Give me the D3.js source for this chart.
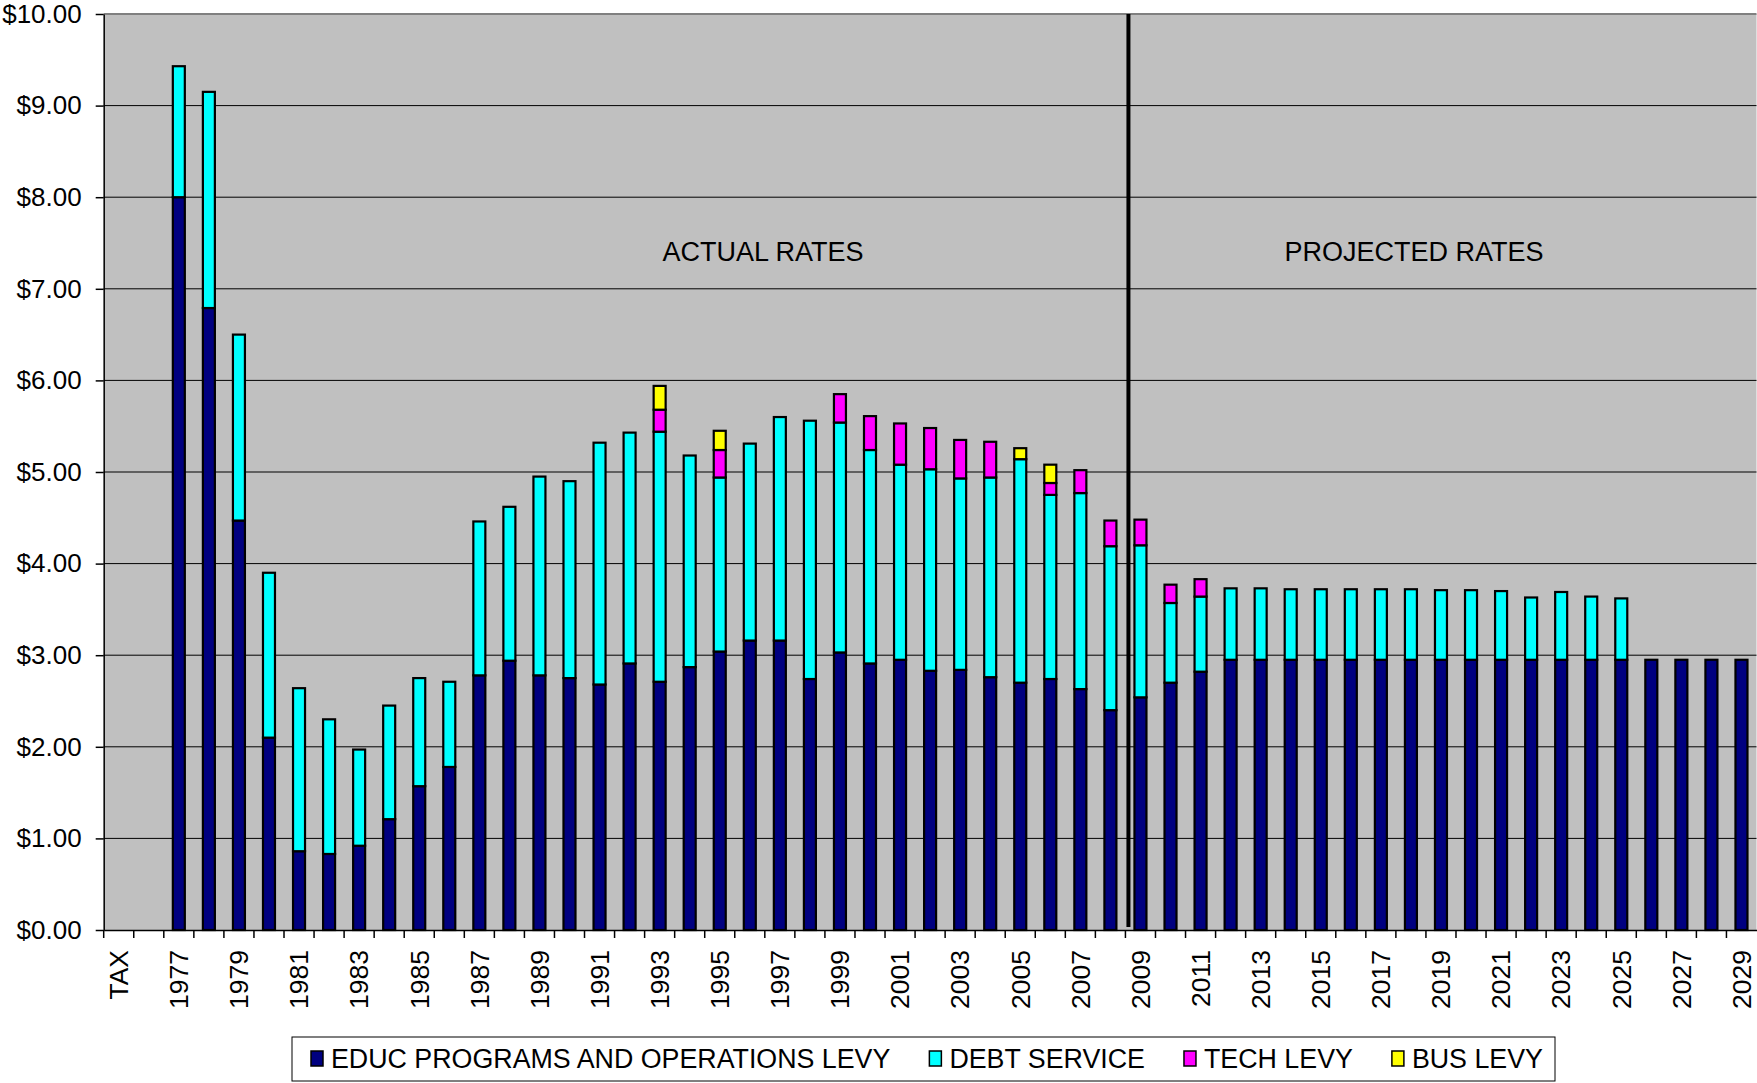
<!DOCTYPE html>
<html>
<head>
<meta charset="utf-8">
<script src="https://cdn.jsdelivr.net/npm/d3@7"></script>
<style>
  body { margin: 0; background: #fff; }
  text { font-family: "Liberation Sans", Arial, sans-serif; fill: #000; }
</style>
</head>
<body>
<div id="chart"></div>
<script>
const svgWidth = 1757;
const svgHeight = 1083;

const margin = { top: 14, right: 0.5, bottom: 153, left: 103.7 };
const width = svgWidth - margin.left - margin.right;
const height = svgHeight - margin.top - margin.bottom;

// Data
const years = ["1977","1978","1979","1980","1981","1982","1983","1984","1985","1986",
  "1987","1988","1989","1990","1991","1992","1993","1994","1995","1996",
  "1997","1998","1999","2000","2001","2002","2003","2004","2005","2006",
  "2007","2008","2009","2010","2011","2012","2013","2014","2015","2016",
  "2017","2018","2019","2020","2021","2022","2023","2024","2025","2026",
  "2027","2028","2029"];
const categories = ["TAX", ""].concat(years);

const educ = [8.00, 6.79, 4.47, 2.10, 0.86, 0.83, 0.92, 1.21, 1.57, 1.78,
  2.78, 2.94, 2.78, 2.75, 2.68, 2.91, 2.71, 2.87, 3.04, 3.16,
  3.16, 2.74, 3.03, 2.91, 2.95, 2.83, 2.84, 2.76, 2.70, 2.74,
  2.63, 2.40, 2.54, 2.70, 2.82, 2.95, 2.95, 2.95, 2.95, 2.95,
  2.95, 2.95, 2.95, 2.95, 2.95, 2.95, 2.95, 2.95, 2.95, 2.95,
  2.95, 2.95, 2.95];
const debt = [1.43, 2.36, 2.03, 1.80, 1.78, 1.47, 1.05, 1.24, 1.18, 0.93,
  1.68, 1.68, 2.17, 2.15, 2.64, 2.52, 2.73, 2.31, 1.90, 2.15,
  2.44, 2.82, 2.51, 2.33, 2.13, 2.20, 2.09, 2.18, 2.44, 2.01,
  2.14, 1.79, 1.66, 0.87, 0.82, 0.78, 0.78, 0.77, 0.77, 0.77,
  0.77, 0.77, 0.76, 0.76, 0.75, 0.68, 0.74, 0.69, 0.67, 0,
  0, 0, 0];
const tech = [0, 0, 0, 0, 0, 0, 0, 0, 0, 0,
  0, 0, 0, 0, 0, 0, 0.24, 0, 0.30, 0,
  0, 0, 0.31, 0.37, 0.45, 0.45, 0.42, 0.39, 0, 0.13,
  0.25, 0.28, 0.28, 0.20, 0.19, 0, 0, 0, 0, 0,
  0, 0, 0, 0, 0, 0, 0, 0, 0, 0,
  0, 0, 0];
const bus = [0, 0, 0, 0, 0, 0, 0, 0, 0, 0,
  0, 0, 0, 0, 0, 0, 0.26, 0, 0.21, 0,
  0, 0, 0, 0, 0, 0, 0, 0, 0.12, 0.20,
  0, 0, 0, 0, 0, 0, 0, 0, 0, 0,
  0, 0, 0, 0, 0, 0, 0, 0, 0, 0,
  0, 0, 0];

const seriesNames = ["EDUC PROGRAMS AND OPERATIONS LEVY", "DEBT SERVICE", "TECH LEVY", "BUS LEVY"];
const seriesColors = ["#000080", "#00FFFF", "#FF00FF", "#FFFF00"];
const yTicks = [0, 1, 2, 3, 4, 5, 6, 7, 8, 9, 10];

const rows = years.map((yr, i) => ({ year: yr, educ: educ[i], debt: debt[i], tech: tech[i], bus: bus[i] }));
const keys = ["educ", "debt", "tech", "bus"];

const svg = d3.select("#chart")
  .append("svg")
  .attr("width", svgWidth)
  .attr("height", svgHeight);

const chartGroup = svg.append("g")
  .attr("transform", `translate(${margin.left}, ${margin.top})`);

// scales
const x = d3.scaleBand().domain(categories).range([0, width]).padding(0);
const y = d3.scaleLinear().domain([0, 10]).range([height, 0]);
const barWidth = 12;

// plot area
chartGroup.append("rect")
  .attr("width", width)
  .attr("height", height)
  .attr("fill", "#C0C0C0");

// gridlines
chartGroup.append("g")
  .selectAll("line")
  .data(yTicks.filter(d => d > 0 && d < 10))
  .enter()
  .append("line")
  .attr("x1", 0)
  .attr("x2", width)
  .attr("y1", d => y(d))
  .attr("y2", d => y(d))
  .attr("stroke", "#000")
  .attr("stroke-width", 1);

// top border of plot
chartGroup.append("line")
  .attr("x1", 0).attr("x2", width)
  .attr("y1", y(10)).attr("y2", y(10))
  .attr("stroke", "#808080")
  .attr("stroke-width", 2);

// stacked bars
const stacked = d3.stack().keys(keys)(rows);

const layers = chartGroup.selectAll("g.layer")
  .data(stacked)
  .enter()
  .append("g")
  .attr("class", "layer")
  .attr("fill", (d, i) => seriesColors[i]);

layers.selectAll("rect")
  .data(d => d.filter(s => s[1] - s[0] > 0))
  .enter()
  .append("rect")
  .attr("x", d => x(d.data.year) + (x.bandwidth() - barWidth) / 2)
  .attr("y", d => y(d[1]))
  .attr("width", barWidth)
  .attr("height", d => y(d[0]) - y(d[1]))
  .attr("stroke", "#000")
  .attr("stroke-width", 2.2);

// divider between actual and projected
const divX = x("2009") + 3;
chartGroup.append("line")
  .attr("x1", divX).attr("x2", divX)
  .attr("y1", y(10)).attr("y2", y(0) - 3)
  .attr("stroke", "#000")
  .attr("stroke-width", 4);

// annotations
chartGroup.append("text")
  .attr("x", 763 - margin.left)
  .attr("y", y(7.41))
  .attr("dy", "0.35em")
  .attr("text-anchor", "middle")
  .style("font-size", "27px")
  .text("ACTUAL RATES");

chartGroup.append("text")
  .attr("x", 1414 - margin.left)
  .attr("y", y(7.41))
  .attr("dy", "0.35em")
  .attr("text-anchor", "middle")
  .style("font-size", "27px")
  .text("PROJECTED RATES");

// y axis
const leftAxis = d3.axisLeft(y)
  .tickValues(yTicks)
  .tickFormat(d3.format("$.2f"))
  .tickSize(8)
  .tickSizeOuter(0)
  .tickPadding(14);

const yAxis = chartGroup.append("g").call(leftAxis);
yAxis.selectAll("text").style("font-size", "26px").attr("fill", "#000");
yAxis.selectAll("line, path").attr("stroke", "#000").attr("stroke-width", 1.5);

// x axis, labels on every other category
const bottomAxis = d3.axisBottom(x)
  .tickSize(0)
  .tickSizeOuter(0)
  .tickFormat((d, i) => (i % 2 === 0 ? d : ""));

const xAxis = chartGroup.append("g")
  .attr("transform", `translate(0, ${height})`)
  .call(bottomAxis);

xAxis.select("path").attr("stroke", "#000").attr("stroke-width", 1.5);
xAxis.selectAll("text")
  .attr("transform", "rotate(-90)")
  .attr("x", -20)
  .attr("y", 0)
  .attr("dy", "0.35em")
  .style("text-anchor", "end")
  .style("font-size", "26.5px")
  .attr("fill", "#000");

// tick marks at category boundaries
xAxis.append("g")
  .selectAll("line")
  .data(categories)
  .enter()
  .append("line")
  .attr("x1", d => x(d))
  .attr("x2", d => x(d))
  .attr("y1", 0)
  .attr("y2", 8)
  .attr("stroke", "#000")
  .attr("stroke-width", 1.5);

// legend
const legend = svg.append("g").attr("transform", "translate(292, 1037)");
legend.append("rect")
  .attr("width", 1263)
  .attr("height", 44)
  .attr("fill", "#fff")
  .attr("stroke", "#000")
  .attr("stroke-width", 1);

let cursor = 19;
seriesNames.forEach((name, i) => {
  const item = legend.append("g");
  item.append("rect")
    .attr("x", cursor)
    .attr("y", 14)
    .attr("width", 12)
    .attr("height", 15)
    .attr("fill", seriesColors[i])
    .attr("stroke", "#000")
    .attr("stroke-width", 1.5);
  const label = item.append("text")
    .attr("x", cursor + 20)
    .attr("y", 22)
    .attr("dy", "0.35em")
    .style("font-size", "26.8px")
    .text(name);
  cursor += 20 + label.node().getComputedTextLength() + 39;
});
</script>
</body>
</html>
